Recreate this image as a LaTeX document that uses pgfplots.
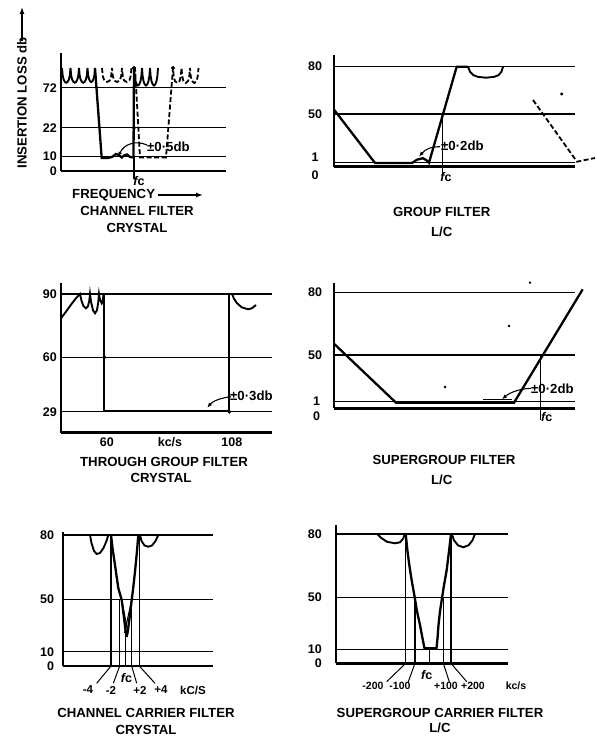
\documentclass[border=0pt]{standalone}
\usepackage{fontspec}
\setmainfont{Liberation Sans}
\usepackage{pgfplots}
\pgfplotsset{compat=1.18}
\usetikzlibrary{arrows.meta}
\newcommand\ttl{\fontsize{13.2}{15}\selectfont\bfseries}
\newcommand\tkl{\fontsize{12.5}{13}\selectfont\bfseries}
\newcommand\skl{\fontsize{11.5}{12}\selectfont\bfseries}
\newcommand\xkl{\fontsize{10.5}{11}\selectfont\bfseries}
\newcommand\fc{{\itshape f}c}
\pgfplotsset{
  panel/.style={
    x=1pt, y=1pt, anchor=south west, clip=false,
    axis lines=left, axis line style={-, line width=1.9pt},
    x axis line style={line width=2.8pt},
    xtick=\empty, ymajorgrids, grid style={black, line width=1.5pt},
    major tick length=0pt,
    yticklabel style={font=\tkl, anchor=east, inner sep=0pt, xshift=-4pt},
    xticklabel style={font=\tkl, anchor=north, inner sep=0pt, yshift=-4.5pt},
  },
  thk/.style={black, line width=2.3pt},
  rip/.style={black, line width=1.9pt},
  thn/.style={black, line width=1.1pt},
  dsh/.style={black, line width=1.8pt, dash pattern=on 5pt off 2.5pt},
  dot/.style={black, only marks, mark=*, mark size=1.8pt},
}
\begin{document}
\begin{tikzpicture}
\useasboundingbox (0,0) rectangle (597pt,739pt);

% ---------------- Panel 1: channel filter (crystal)
\begin{axis}[panel, at={(61pt,568pt)}, xmin=61, xmax=225.7, ymin=0, ymax=118,
  ytick={0,14.3,43.3,83.3}, yticklabels={0,10,22,72}]
\addplot[rip] coordinates {(62,103)(62.6,96)(63.6,91.5)(65,89)(66.25,88.3)(67.5,89)(68.9,91.5)(69.9,96)(70.5,103)(71.1,96)(72.1,91.5)(73.5,89)(74.75,88.3)(76,89)(77.4,91.5)(78.4,96)(79,103)(79.6,96)(80.6,91.5)(82,89)(83.25,88.3)(84.5,89)(85.9,91.5)(86.9,96)(87.5,103)(88.1,96)(89,92)(90.2,89.6)(91.25,89)(92.3,89.6)(93.5,92)(94.4,96)(95,103)};
\addplot[thk] coordinates {(95,103)(101.7,13)(108,13)(112,14)(116,17)(119,16)(121.7,13.5)(124,15.5)(127,16.5)(130,14)(133.5,13.5)(134,103)};
\addplot[rip] coordinates {(134,103)(134.6,95)(135.6,89.5)(136.8,86.5)(138,85.5)(139.2,86.5)(140.4,89.5)(141.4,95)(142,103)(142.6,95)(143.6,89.5)(144.8,86.5)(146,85.5)(147.2,86.5)(148.4,89.5)(149.4,95)(150,103)(150.6,95)(151.6,89.5)(152.8,86.5)(154,85.5)(155.2,86.5)(156.4,89.5)(157.4,95)(158,103)};
\addplot[dsh] coordinates {(102,103)(102.8,95)(104.2,90.5)(107,89)(109.8,90.5)(111.2,95)(112,103)(112.8,95)(114.2,90.5)(117,89)(119.8,90.5)(121.2,95)(122,103)(122.8,95)(124.1,90.5)(126.75,89)(129.4,90.5)(130.7,95)(131.5,103)(135,103)(140,13.5)(166,13.5)(173,103)(173.7,95)(174.9,90)(177.25,88)(179.6,90)(180.8,95)(181.5,103)(182.2,95)(183.4,90)(185.75,88)(188.1,90)(189.3,95)(190,103)(190.7,95)(191.9,90)(194.25,88)(196.6,90)(197.8,95)(198.5,103)};
\addplot[thn] coordinates {(134,13.5)(134,-8)};
\addplot[dot] coordinates {(134,103)(134,43.3)(173,103)};
\draw[black, line width=1.1pt, {Latex[length=4pt,width=4pt]}-] (118.5,15) .. controls (124,27) and (136,31) .. (147,26);
\node[anchor=west, font=\ttl, inner sep=1pt] at (146,24.5) {±0·5db};
\node[font=\tkl, inner sep=0pt] at (139,-10) {\fc};
\node[anchor=west, font=\ttl, inner sep=0pt] at (72,-24) {FREQUENCY};
\draw[black, line width=1.3pt, -{Latex[length=7pt,width=5pt]}] (158,-24) -- (203,-24);
\node[font=\ttl] at (137,-40) {CHANNEL FILTER};
\node[font=\ttl] at (137,-57) {CRYSTAL};
\node[rotate=90, font=\ttl] at (22,68) {INSERTION LOSS db};
\draw[black, line width=1.3pt, -{Latex[length=7pt,width=5pt]}] (22,130) -- (22,164);
\end{axis}

% ---------------- Panel 2: group filter (L/C)
\begin{axis}[panel, at={(334.3pt,572.3pt)}, xmin=334.3, xmax=575, ymin=0, ymax=111.7,
  ytick={4.4,52.7,100}, yticklabels={,50,80}, yticklabel style={xshift=-8pt}]
\addplot[thk] coordinates {(334.3,56.7)(375,3.7)(412,3.7)(417,7)(423,8.5)(427,6)(429,4)(456.7,100)(468,100)};
\addplot[rip] coordinates {(468,100)(470,95)(473.5,91.5)(478,89.8)(486,89)(494,89.8)(498.5,91.5)(501.5,95)(503,100)};
\addplot[dsh] coordinates {(533,66.7)(577,5)(595,8.7)};
\addplot[thn] coordinates {(442.7,52.7)(442.7,-7)};
\addplot[black, only marks, mark=*, mark size=1.3pt] coordinates {(561.7,72.7)};
\draw[black, line width=1.1pt, -{Latex[length=5pt,width=4pt]}] (440,20) .. controls (430,20) and (425,17) .. (419,10);
\node[anchor=west, font=\ttl, inner sep=1pt] at (440,20.7) {±0·2db};
\node[font=\tkl] at (315,9.4) {1};
\node[font=\tkl] at (315,-8.3) {0};
\node[font=\tkl, inner sep=0pt] at (446,-10.3) {\fc};
\node[font=\ttl] at (441.7,-45) {GROUP FILTER};
\node[font=\ttl] at (441.7,-65) {L/C};
\end{axis}

% ---------------- Panel 3: through group filter (crystal)
\begin{axis}[panel, at={(61pt,306.3pt)}, xmin=61, xmax=272, ymin=0, ymax=149.7,
  ytick={21,75.4,138.7}, yticklabels={29,60,90},
  xtick={104.3,229.3}, xticklabels={60,108}, xticklabel style={xshift=2.5pt}]
\addplot[rip] coordinates {(61,114.4)(66,121)(71,128)(76,134.5)(80,138.7)(81.5,132)(83.5,126.5)(86,124.4)(88,126.5)(89.3,132)(90,138.7)(91,131)(93,122.5)(95,119.4)(97,122.5)(98.3,131)(99,138.7)(100,133)(101.7,129.4)(102.8,132)(103.5,138.7)};
\addplot[thk] coordinates {(104.3,138.7)(104.3,22)(229.3,22)(229.3,138.7)};
\addplot[rip] coordinates {(232,138.7)(234,134)(237,129.5)(241.7,125.4)(248.3,123.4)(252,124.5)(256,127.7)};
\addplot[dot] coordinates {(104.3,75.4)(229.3,21)};
\draw[black, line width=1.1pt, -{Latex[length=5pt,width=4pt]}] (231,36) .. controls (222,35) and (213,32) .. (207.3,25);
\node[anchor=west, font=\ttl, inner sep=1pt] at (229,36.7) {±0·3db};
\node[font=\tkl] at (170,-9) {kc/s};
\node[font=\ttl] at (164,-29) {THROUGH GROUP FILTER};
\node[font=\ttl] at (161,-45.6) {CRYSTAL};
\end{axis}

% ---------------- Panel 4: supergroup filter (L/C)
\begin{axis}[panel, at={(334.3pt,330.7pt)}, xmin=334.3, xmax=575, ymin=0, ymax=125,
  ytick={6.6,53.3,115.6}, yticklabels={,50,80}, yticklabel style={xshift=-8pt}]
\addplot[thk] coordinates {(334.3,64.3)(396,5.6)(514,5.6)(582.7,119)};
\addplot[thn] coordinates {(483,8.5)(512,8.5)};
\addplot[thn] coordinates {(540.7,53.3)(540.7,-12)};
\addplot[black, only marks, mark=*, mark size=1pt] coordinates {(530,125.6)(509,82.3)(445,21.3)};
\draw[black, line width=1.1pt, -{Latex[length=5pt,width=4pt]}] (531,20) .. controls (520,19.5) and (510,16) .. (502,9);
\node[anchor=west, font=\ttl, inner sep=1pt] at (530,20) {±0·2db};
\node[font=\tkl] at (316.7,7.5) {1};
\node[font=\tkl] at (316.7,-8.4) {0};
\node[font=\tkl, inner sep=0pt] at (546.7,-8.4) {\fc};
\node[font=\ttl] at (444,-51.7) {SUPERGROUP FILTER};
\node[font=\ttl] at (441.7,-71.7) {L/C};
\end{axis}

% ---------------- Panel 5: channel carrier filter (crystal)
\begin{axis}[panel, at={(63.3pt,73pt)}, xmin=63.3, xmax=213.3, ymin=0, ymax=134.3,
  ytick={0,14.3,66.7,131}, yticklabels={0,10,50,80}, yticklabel style={xshift=-5pt}]
\addplot[rip] coordinates {(90,131)(91.5,123)(94,115)(96.7,112)(100,113)(103.5,118)(106.5,125)(108.3,131)};
\addplot[rip] coordinates {(140,131)(141.5,125)(144.5,120.5)(148.3,119.3)(152,120.5)(155.5,125)(158.3,131)};
\addplot[thn] coordinates {(111,131)(111,0)};
\addplot[thn] coordinates {(139.3,131)(139.3,0)};
\addplot[thn] coordinates {(119.7,66.7)(119.7,0)};
\addplot[thn] coordinates {(131.7,66.7)(131.7,0)};
\addplot[thn] coordinates {(125.7,31)(125.7,0)};
\addplot[thk] coordinates {(111,131)(112.5,118)(115,101)(116.8,88)(118.3,78)(121.7,66)(123.8,50)(125.5,36)(126.7,29)};
\addplot[thk] coordinates {(138.3,131)(137,115)(135,94.3)(133.2,78)(131.7,66)(129.8,50)(128,36)(126.7,29)};
\addplot[thn] coordinates {(121.7,66)(128,33)};
\addplot[thn] coordinates {(131.7,66)(124.5,33)};
\draw[black, line width=1pt] (111,0) -- (96.7,-17.3);
\draw[black, line width=1pt] (119.7,0) -- (113.3,-17.3);
\draw[black, line width=1pt] (131.7,0) -- (136.7,-17.3);
\draw[black, line width=1pt] (139.3,0) -- (155,-17.3);
\node[font=\tkl, inner sep=0pt] at (126.5,-12.3) {\fc};
\node[font=\skl] at (88,-24) {-4};
\node[font=\skl] at (111,-24) {-2};
\node[font=\skl] at (140,-24) {+2};
\node[font=\skl] at (161,-24) {+4};
\node[font=\skl] at (193,-24) {kC/S};
\node[font=\ttl] at (146,-47.3) {CHANNEL CARRIER FILTER};
\node[font=\ttl] at (146,-64) {CRYSTAL};
\end{axis}

% ---------------- Panel 6: supergroup carrier filter (L/C)
\begin{axis}[panel, at={(336pt,75.7pt)}, xmin=336, xmax=508.3, ymin=0, ymax=138.3,
  ytick={0,14,66,129.3}, yticklabels={0,10,50,80}, yticklabel style={xshift=-10pt}]
\addplot[rip] coordinates {(377.3,129.3)(381,125.5)(387,121.5)(395,120)(400,121)(403,124.5)(405,129.3)};
\addplot[rip] coordinates {(451.7,129.3)(454,123)(458,118)(463.3,116)(468.5,118)(472.5,123)(475,129.3)};
\addplot[thn] coordinates {(405.7,129.3)(405.7,0)};
\addplot[thn] coordinates {(451,129.3)(451,0)};
\addplot[thn] coordinates {(415,66)(415,0)};
\addplot[thn] coordinates {(443.3,66)(443.3,0)};
\addplot[thn] coordinates {(429.3,14)(429.3,0)};
\addplot[thk] coordinates {(405.7,129.3)(407.5,112)(409.3,98.3)(411.5,84)(414.3,68.3)(417,52)(420,38.3)(422.5,25)(424.5,15)(436.5,15)(437.5,25)(438.5,38.3)(440,52)(441.7,63.3)(444,78)(446.7,93.3)(449,112)(451,129.3)};
\draw[black, line width=1pt] (405.7,0) -- (386.7,-18.4);
\draw[black, line width=1pt] (415,0) -- (408.3,-18.4);
\draw[black, line width=1pt] (443.3,0) -- (449.3,-18.4);
\draw[black, line width=1pt] (451,0) -- (466.7,-18.4);
\node[font=\tkl, inner sep=0pt] at (426.7,-11.7) {\fc};
\node[font=\xkl] at (373,-22.4) {-200};
\node[font=\xkl] at (400,-22.4) {-100};
\node[font=\xkl] at (446,-22.4) {+100};
\node[font=\xkl] at (473,-22.4) {+200};
\node[font=\xkl] at (516,-22.4) {kc/s};
\node[font=\ttl] at (440,-50) {SUPERGROUP CARRIER FILTER};
\node[font=\ttl] at (440,-65) {L/C};
\end{axis}
\end{tikzpicture}
\end{document}
